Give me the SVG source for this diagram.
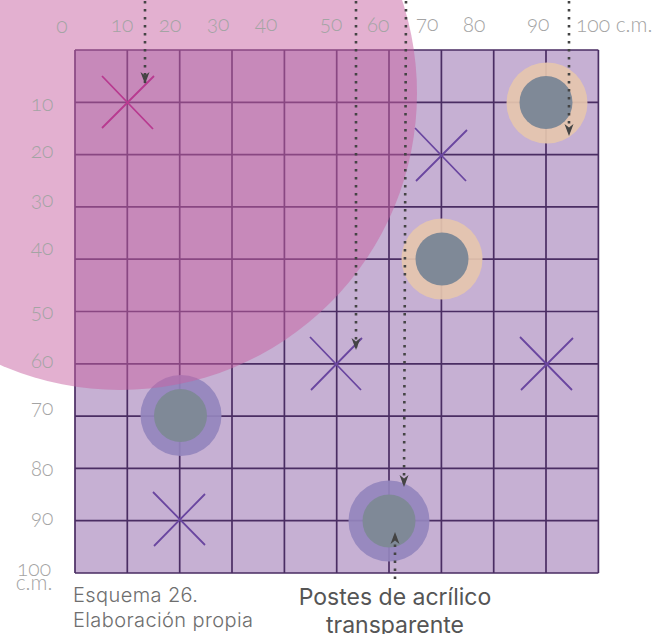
<svg xmlns="http://www.w3.org/2000/svg" width="658" height="634" viewBox="0 0 658 634">
<style>
.grid{stroke:#4a2d63;stroke-width:1.7;fill:none}
.x{stroke:#6a46a0;stroke-width:1.8;fill:none}
.n{font-family:"Lato","Liberation Sans",sans-serif;font-weight:300;font-size:21px;fill:#a4a4a4;text-anchor:middle;font-feature-settings:"onum"}
.c{font-family:"Inter","Liberation Sans",sans-serif;font-weight:300;font-size:20px;letter-spacing:.4px;fill:#6e6e6e}
.t{font-family:"Inter","Liberation Sans",sans-serif;font-weight:400;font-size:23px;fill:#555;text-anchor:middle}
.d{stroke:#444;stroke-width:2.6;stroke-dasharray:2.600 5.400;fill:none}
.oo{fill:#e5c6ae}.op{fill:#9486bd}.in{fill:#7f8997}
</style>
<defs><marker id="ah" markerUnits="userSpaceOnUse" markerWidth="14" markerHeight="12" refX="11" refY="6" orient="auto"><path d="M0 1.500L3.500 6L0 10.500L12 6Z" fill="#444"/></marker></defs>
<rect width="658" height="634" fill="#fff"/>
<g id="board">
<rect x="75" y="50" width="523.400" height="523" fill="#c6b0d3"/>
<path class="grid" d="M75 50V573M127.300 50V573M179.700 50V573M232 50V573M284.400 50V573M336.700 50V573M389 50V573M441.400 50V573M493.700 50V573M546 50V573M598.400 50V573M75 50H598.400M75 102.300H598.400M75 154.600H598.400M75 206.900H598.400M75 259.200H598.400M75 311.500H598.400M75 363.800H598.400M75 416.100H598.400M75 468.400H598.400M75 520.700H598.400M75 573H598.400"/>
</g>
<g id="cross-2"><path class="x" d="M415 128L466 181M416 181L467 130"/></g>
<g id="cross-3"><path class="x" d="M310 337L361 390M311 390L362 338"/></g>
<g id="cross-4"><path class="x" d="M520 337L572 390M521 390L573 338"/></g>
<g id="cross-5"><path class="x" d="M153 492L205 545M154 546L205 494"/></g>
<g id="post-1"><circle class="oo" cx="547" cy="103" r="40.500" opacity=".92"/><circle class="in" cx="546" cy="102.500" r="26.500"/></g>
<g id="post-2"><circle class="oo" cx="442" cy="259" r="40.500" opacity=".92"/><circle class="in" cx="442" cy="259" r="26.500"/></g>
<g id="post-3"><circle class="op" cx="181" cy="415.500" r="40.500" opacity=".92"/><circle class="in" cx="180.500" cy="415.500" r="26.500"/></g>
<g id="post-4"><circle class="op" cx="389" cy="521" r="40.500" opacity=".92"/><circle class="in" cx="389" cy="521" r="26.500"/></g>
<circle id="spot" cx="120" cy="93" r="297" fill="#c761a1" fill-opacity=".5"/>
<g id="cross-1"><path class="x" d="M102 76L153 129M102 128L154 76" style="stroke:#b83a90"/></g>
<g id="connectors">
<path class="d" d="M145 1V83" marker-end="url(#ah)"/>
<path class="d" d="M356 1V349" marker-end="url(#ah)"/>
<path class="d" d="M406 1L404 486" marker-end="url(#ah)"/>
<path class="d" d="M569 1V135" marker-end="url(#ah)"/>
<path class="d" d="M395 579V533" marker-end="url(#ah)"/>
</g>
<g id="labels">
<text class="n" x="62" y="33">0</text><text class="n" x="122" y="32">10</text><text class="n" x="170" y="32">20</text><text class="n" x="218" y="31">30</text><text class="n" x="266" y="31">40</text><text class="n" x="331" y="31">50</text><text class="n" x="378" y="32">60</text><text class="n" x="427" y="31">70</text><text class="n" x="474" y="32">80</text><text class="n" x="538" y="31">90</text>
<text class="n" x="576" y="32" style="text-anchor:start">100 c.m.</text>
<text class="n" x="42" y="111">10</text><text class="n" x="42" y="158">20</text><text class="n" x="42" y="207">30</text><text class="n" x="42" y="255">40</text><text class="n" x="42" y="319">50</text><text class="n" x="42" y="368">60</text><text class="n" x="42" y="415">70</text><text class="n" x="42" y="476">80</text><text class="n" x="42" y="525">90</text>
<text class="n"><tspan x="34" y="576">100</tspan><tspan x="34" y="590">c.m.</tspan></text>
<text class="c" x="73" y="602">Esquema 26.</text><text class="c" x="73" y="627">Elaboración propia</text>
<text class="t" x="395" y="605">Postes de acrílico</text><text class="t" x="395" y="633">transparente</text>
</g>
</svg>
